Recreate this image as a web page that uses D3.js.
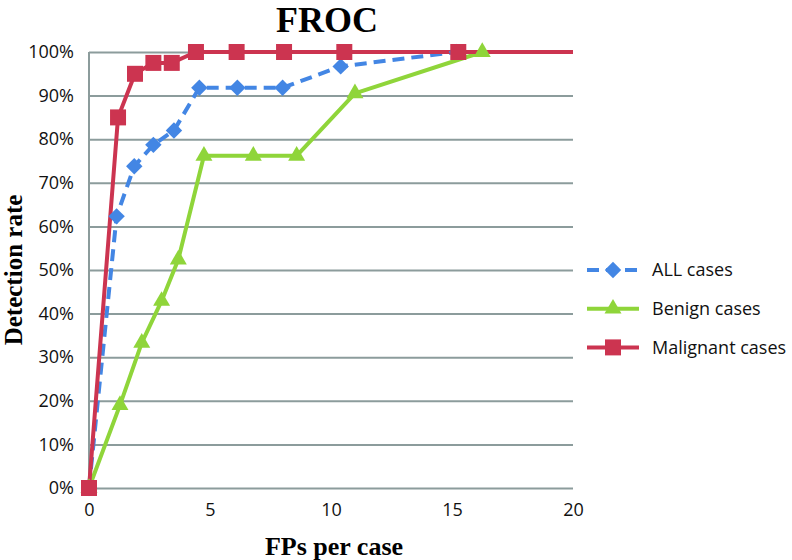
<!DOCTYPE html>
<html>
<head>
<meta charset="utf-8">
<script src="https://cdn.jsdelivr.net/npm/d3@7"></script>
<style>
  body { margin: 0; background: #fff; }
  svg { display: block; }
</style>
</head>
<body>
<svg id="chart" width="792" height="560"></svg>
<script>
// values (FPs per case, detection rate)
const allX = [0, 1.14, 1.87, 2.66, 3.51, 4.56, 6.13, 8.0, 10.4, 15.2];
const allY = [0, 0.623, 0.738, 0.787, 0.82, 0.918, 0.918, 0.918, 0.967, 1.0];

const benignX = [0, 1.28, 2.18, 3.0, 3.69, 4.75, 6.79, 8.58, 10.99, 16.25];
const benignY = [0, 0.19, 0.333, 0.429, 0.524, 0.762, 0.762, 0.762, 0.905, 1.0];

// last point only extends the line to the edge, it has no marker
const malignantX = [0, 1.2, 1.9, 2.66, 3.42, 4.42, 6.1, 8.06, 10.55, 15.26, 20];
const malignantY = [0, 0.85, 0.95, 0.975, 0.975, 1.0, 1.0, 1.0, 1.0, 1.0, 1.0];

const xTicks = [0, 5, 10, 15, 20];
const yTicks = [0, 0.1, 0.2, 0.3, 0.4, 0.5, 0.6, 0.7, 0.8, 0.9, 1.0];

const seriesNames = ['ALL cases', 'Benign cases', 'Malignant cases'];

const sansFont = '"Open Sans", sans-serif';
const serifFont = '"Liberation Serif", "Times New Roman", serif';
const gridColor = '#8c9c9c';

// diamond = square turned 45deg, so it is as wide as it is tall
const series = [
  { name: seriesNames[0], xs: allX, ys: allY, color: '#4386e4', dash: '12,7', symbol: d3.symbolSquare, size: 135, rot: 45, markerCount: allX.length },
  { name: seriesNames[1], xs: benignX, ys: benignY, color: '#8fd53a', dash: null, symbol: d3.symbolTriangle, size: 125, rot: 0, markerCount: benignX.length },
  { name: seriesNames[2], xs: malignantX, ys: malignantY, color: '#cc3450', dash: null, symbol: d3.symbolSquare, size: 256, rot: 0, markerCount: malignantX.length - 1 }
];

const svg = d3.select('#chart');

const x = d3.scaleLinear().domain([0, 20]).range([89, 573]);
const y = d3.scaleLinear().domain([0, 1]).range([488, 52]);

// gridlines
svg.append('g')
  .attr('transform', `translate(${x(0)},0)`)
  .call(d3.axisLeft(y).tickValues(yTicks).tickSize(-(x(20) - x(0))).tickFormat(''))
  .call(g => g.select('.domain').remove())
  .call(g => g.selectAll('line').attr('stroke', gridColor).attr('stroke-width', 2));

// left axis line
svg.append('line')
  .attr('x1', x(0)).attr('x2', x(0))
  .attr('y1', y(0)).attr('y2', y(1))
  .attr('stroke', gridColor).attr('stroke-width', 2);

// y tick labels
svg.append('g')
  .attr('transform', `translate(${x(0)},0)`)
  .call(d3.axisLeft(y).tickValues(yTicks).tickSize(0).tickPadding(15).tickFormat(d3.format('.0%')))
  .call(g => g.select('.domain').remove())
  .call(g => g.selectAll('text').attr('font-family', sansFont).attr('font-size', 18).attr('fill', '#111'));

// x tick labels
svg.append('g')
  .attr('transform', `translate(0,${y(0)})`)
  .call(d3.axisBottom(x).tickValues(xTicks).tickSize(0).tickPadding(15).tickFormat(d3.format('d')))
  .call(g => g.select('.domain').remove())
  .call(g => g.selectAll('text').attr('font-family', sansFont).attr('font-size', 18).attr('fill', '#111'));

const line = d3.line().x(d => x(d[0])).y(d => y(d[1]));

// lines first, markers on top of all lines
series.forEach(s => {
  svg.append('path')
    .datum(d3.zip(s.xs, s.ys))
    .attr('d', line)
    .attr('fill', 'none')
    .attr('stroke', s.color)
    .attr('stroke-width', 4)
    .attr('stroke-linejoin', 'round')
    .attr('stroke-dasharray', s.dash);
});

series.forEach(s => {
  svg.append('g')
    .selectAll('path')
    .data(d3.zip(s.xs, s.ys).slice(0, s.markerCount))
    .join('path')
    .attr('transform', d => `translate(${x(d[0])},${y(d[1])}) rotate(${s.rot})`)
    .attr('d', d3.symbol(s.symbol, s.size))
    .attr('fill', s.color);
});

// legend
const legend = svg.append('g');
series.forEach((s, i) => {
  const ly = 270 + i * 38.7;
  legend.append('line')
    .attr('x1', 587).attr('x2', 639)
    .attr('y1', ly).attr('y2', ly)
    .attr('stroke', s.color).attr('stroke-width', 4)
    .attr('stroke-dasharray', s.dash);
  legend.append('path')
    .attr('transform', `translate(613,${ly}) rotate(${s.rot})`)
    .attr('d', d3.symbol(s.symbol, s.size))
    .attr('fill', s.color);
  legend.append('text')
    .attr('x', 652).attr('y', ly)
    .attr('dy', '0.35em')
    .attr('font-family', sansFont).attr('font-size', 18)
    .attr('fill', '#111')
    .text(s.name);
});

// title and axis titles
svg.append('text')
  .attr('x', 327).attr('y', 31.5)
  .attr('text-anchor', 'middle')
  .attr('font-family', serifFont).attr('font-weight', 'bold').attr('font-size', 36)
  .text('FROC');

svg.append('text')
  .attr('x', 334).attr('y', 555)
  .attr('text-anchor', 'middle')
  .attr('font-family', serifFont).attr('font-weight', 'bold').attr('font-size', 26)
  .text('FPs per case');

svg.append('text')
  .attr('transform', 'translate(22,270) rotate(-90)')
  .attr('text-anchor', 'middle')
  .attr('font-family', serifFont).attr('font-weight', 'bold').attr('font-size', 25)
  .text('Detection rate');
</script>
</body>
</html>
